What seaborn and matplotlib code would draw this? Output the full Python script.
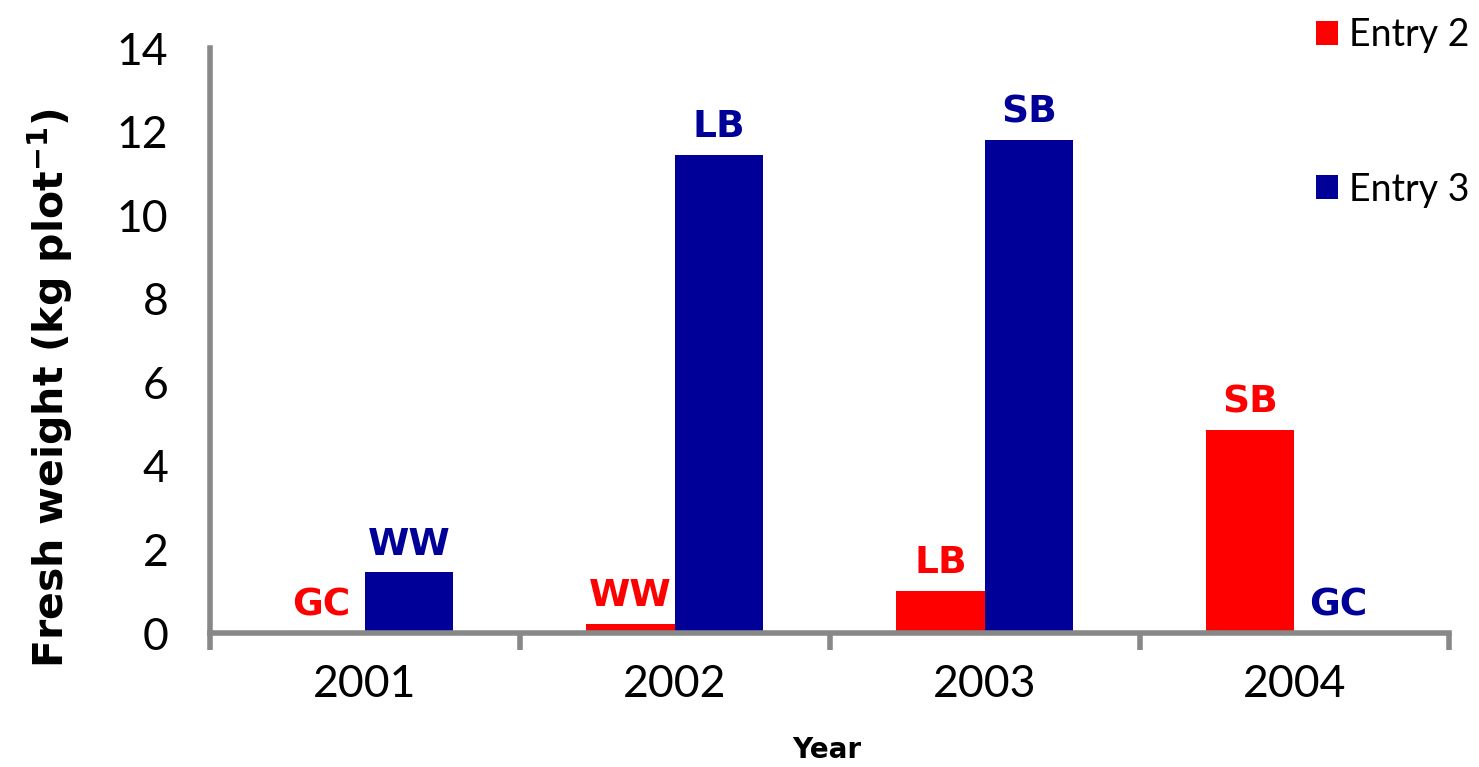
import matplotlib
matplotlib.use("Agg")
import matplotlib.pyplot as plt
import seaborn as sns
import pandas as pd
from matplotlib.ticker import FixedLocator

years = ["2001", "2002", "2003", "2004"]
entry2 = [0.0, 0.22, 1.0, 4.85]
entry3 = [1.45, 11.45, 11.8, 0.0]
entry2_labels = ["GC", "WW", "LB", "SB"]
entry3_labels = ["WW", "LB", "SB", "GC"]
series = ["Entry 2", "Entry 3"]
colors = ["#FF0000", "#000099"]

df = pd.DataFrame({
    "Year": years * 2,
    "Value": entry2 + entry3,
    "Series": [series[0]] * 4 + [series[1]] * 4,
})

sns.set_theme(style="white")
plt.rcParams["font.family"] = ["Lato", "DejaVu Sans"]
plt.rcParams["text.color"] = "black"
plt.rcParams["axes.labelcolor"] = "black"

fig = plt.figure(figsize=(14.79, 7.67), dpi=100)
ax = fig.add_axes([0.142, 0.1747, 0.838, 0.7627])

sns.barplot(data=df, x="Year", y="Value", hue="Series", palette=colors,
            width=0.57, gap=0, ax=ax, saturation=1, edgecolor="none")

ax.set_ylim(0, 14)
ax.set_xlim(-0.5, 3.5)
ax.set_yticks(range(0, 15, 2))
ax.tick_params(axis="y", labelsize=32, length=10, width=4, color="#888888",
               direction="out", pad=20, labelcolor="black")
ax.tick_params(axis="x", which="major", labelsize=32, length=0, pad=22,
               labelcolor="black")
ax.xaxis.set_minor_locator(FixedLocator([-0.5, 0.5, 1.5, 2.5, 3.5]))
ax.tick_params(axis="x", which="minor", length=12, width=4, color="#888888",
               direction="out", bottom=True)
for side in ["top", "right"]:
    ax.spines[side].set_visible(False)
for side in ["left", "bottom"]:
    ax.spines[side].set_color("#888888")
    ax.spines[side].set_linewidth(4)

ax.set_ylabel("Fresh weight (kg plot$^{\\mathbf{-1}}$)", fontsize=29.5,
              fontweight="bold", family="DejaVu Sans", va="center")
ax.yaxis.set_label_coords(-0.129, 0.419)
ax.set_xlabel("Year", fontsize=20, fontweight="bold", family="DejaVu Sans",
              va="center")
ax.xaxis.set_label_coords(0.498, -0.2)

for cont, labs, col in zip(ax.containers, [entry2_labels, entry3_labels], colors):
    ax.bar_label(cont, labels=labs, padding=7, color=col, fontsize=27,
                 fontweight="bold", family="DejaVu Sans")

leg = ax.legend(loc="upper left", bbox_to_anchor=(0.88, 1.078), frameon=False,
                fontsize=27, handlelength=0.6, handleheight=0.6,
                handletextpad=0.3, labelspacing=3.15, borderaxespad=0)
for t in leg.get_texts():
    t.set_color("black")

fig.savefig("out.png", dpi=100)
